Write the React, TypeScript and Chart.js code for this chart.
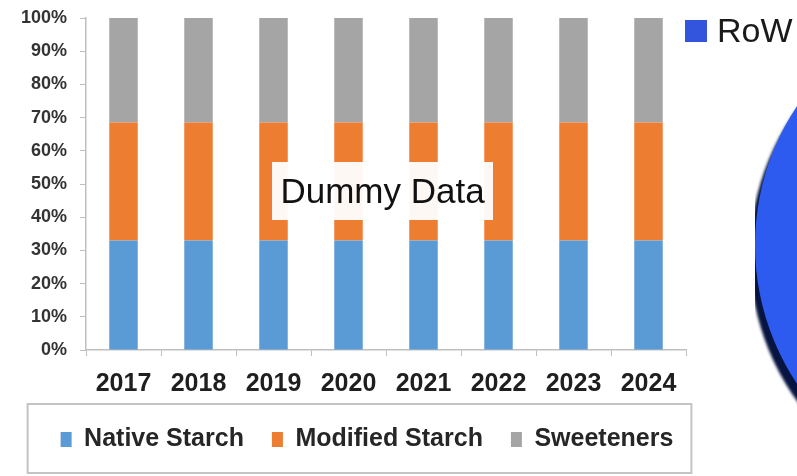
import React, { useEffect, useRef } from "react";
import { Chart, registerables } from "chart.js";
Chart.register(...registerables);

const years = ["2017", "2018", "2019", "2020", "2021", "2022", "2023", "2024"];
const nativeStarch = [33, 33, 33, 33, 33, 33, 33, 33];
const modifiedStarch = [35.5, 35.5, 35.5, 35.5, 35.5, 35.5, 35.5, 35.5];
const sweeteners = [31.5, 31.5, 31.5, 31.5, 31.5, 31.5, 31.5, 31.5];
const seriesNames = ["Native Starch", "Modified Starch", "Sweeteners"];
const seriesColors = ["#5b9bd5", "#ed7d31", "#a5a5a5"];
const yMax = 100;
const yStep = 10;

const pieLabels = ["RoW"];
const pieValues = [100];
const pieColors = ["#2d5bf0"];

const SANS = "'Liberation Sans', Arial, sans-serif";

const legendBorder = {
  id: "legendBorder",
  afterDraw(chart: any) {
    const lg = chart.legend;
    const hb = lg && lg.legendHitBoxes;
    if (!hb || !hb.length) return;
    const minX = Math.min(...hb.map((h: any) => h.left));
    const maxX = Math.max(...hb.map((h: any) => h.left + h.width));
    const ctx = chart.ctx;
    ctx.save();
    ctx.strokeStyle = "#c4c4c4";
    ctx.lineWidth = 2;
    ctx.strokeRect(minX - 33, lg.top + 5, maxX - minX + 51, lg.height + 6);
    ctx.restore();
  },
};

const pieShadow = {
  id: "pieShadow",
  beforeDatasetsDraw(chart: any) {
    const ctx = chart.ctx;
    ctx.save();
    ctx.shadowColor = "#06143f";
    ctx.shadowOffsetX = -5;
    ctx.shadowOffsetY = 10;
    ctx.shadowBlur = 3;
  },
  afterDatasetsDraw(chart: any) {
    chart.ctx.restore();
  },
};

export default function App() {
  const barRef = useRef<HTMLCanvasElement | null>(null);
  const pieRef = useRef<HTMLCanvasElement | null>(null);

  useEffect(() => {
    document.body.style.margin = "0";
    const bar = new Chart(barRef.current as HTMLCanvasElement, {
      type: "bar",
      data: {
        labels: years,
        datasets: [nativeStarch, modifiedStarch, sweeteners].map((d, i) => ({
          label: seriesNames[i],
          data: d,
          backgroundColor: seriesColors[i],
          borderWidth: 0,
          categoryPercentage: 1,
          barPercentage: 0.38,
        })),
      },
      options: {
        responsive: false,
        animation: false,
        devicePixelRatio: 1,
        layout: { padding: { top: 18, right: 0, bottom: 14, left: 0 } },
        plugins: {
          tooltip: { enabled: false },
          legend: {
            position: "bottom",
            labels: {
              boxWidth: 11,
              boxHeight: 15,
              padding: 28,
              color: "#262626",
              font: { family: SANS, size: 25, weight: "bold" },
            },
          },
        },
        scales: {
          x: {
            stacked: true,
            afterFit: (s: any) => {
              s.height = 49;
              s.paddingLeft = 0;
              s.paddingRight = 0;
            },
            border: { display: true, color: "#bfbfbf", width: 1.5 },
            grid: { display: true, drawOnChartArea: false, drawTicks: true, tickLength: 6, color: "#bfbfbf", offset: true },
            ticks: {
              padding: 13,
              autoSkip: false,
              maxRotation: 0,
              color: "#1f1f1f",
              font: { family: SANS, size: 25, weight: "bold" },
            },
          },
          y: {
            stacked: true,
            min: 0,
            max: yMax,
            afterFit: (s: any) => {
              s.width = 86;
              s.paddingTop = 0;
              s.paddingBottom = 0;
            },
            border: { display: true, color: "#bfbfbf", width: 1.5 },
            grid: { display: true, drawOnChartArea: false, drawTicks: true, tickLength: 6, color: "#bfbfbf" },
            ticks: {
              stepSize: yStep,
              autoSkip: false,
              padding: 13,
              color: "#333333",
              font: { family: SANS, size: 18, weight: "bold" },
              callback: (v: any) => v + "%",
            },
          },
          spacer: {
            type: "linear",
            position: "right",
            display: true,
            afterFit: (s: any) => {
              s.width = 48;
            },
            border: { display: false },
            grid: { display: false },
            ticks: { display: false },
          },
        },
      },
      plugins: [legendBorder],
    });

    const pie = new Chart(pieRef.current as HTMLCanvasElement, {
      type: "pie",
      data: {
        labels: pieLabels,
        datasets: [{ data: pieValues, backgroundColor: pieColors, borderWidth: 0 }],
      },
      options: {
        responsive: false,
        animation: false,
        devicePixelRatio: 1,
        layout: { padding: 0 },
        plugins: { legend: { display: false }, tooltip: { enabled: false } },
      },
      plugins: [pieShadow],
    });

    return () => {
      bar.destroy();
      pie.destroy();
    };
  }, []);

  return (
    <div style={{ position: "relative", width: 797, height: 476, overflow: "hidden", background: "#ffffff" }}>
      <canvas ref={barRef} width={734} height={476} style={{ position: "absolute", left: 0, top: 0 }} />
      <div
        style={{
          position: "absolute",
          left: 272,
          top: 162,
          width: 221,
          height: 58,
          background: "rgba(255,255,255,0.95)",
          display: "flex",
          alignItems: "center",
          justifyContent: "center",
          fontFamily: SANS,
          fontSize: 35,
          color: "#111111",
          whiteSpace: "nowrap",
        }}
      >
        Dummy Data
      </div>
      <canvas ref={pieRef} width={500} height={500} style={{ position: "absolute", left: 755, top: -5 }} />
      <div
        style={{
          position: "absolute",
          left: 685,
          top: 11,
          display: "flex",
          alignItems: "center",
          fontFamily: SANS,
          fontSize: 34,
          color: "#1a1a1a",
          whiteSpace: "nowrap",
        }}
      >
        <span style={{ display: "inline-block", width: 22, height: 22, background: "#3355dd", marginRight: 10 }} />
        <span>RoW</span>
      </div>
    </div>
  );
}
